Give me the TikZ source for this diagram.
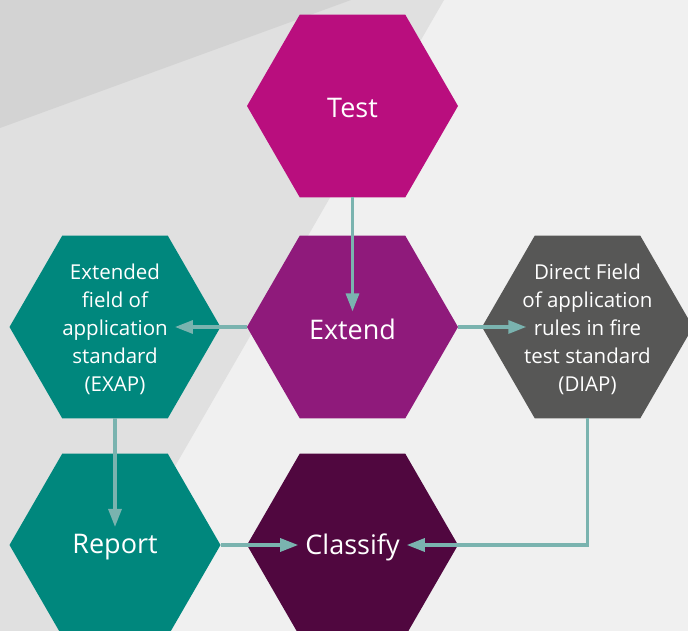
\documentclass[tikz,border=0pt]{standalone}
\usepackage{fontspec}
\setmainfont{Open Sans}
\usetikzlibrary{shapes.geometric,arrows.meta}

\definecolor{testc}{HTML}{B90E7E}
\definecolor{extendc}{HTML}{8F1A7B}
\definecolor{classc}{HTML}{50073F}
\definecolor{tealc}{HTML}{00877D}
\definecolor{greyc}{HTML}{575756}
\definecolor{arrowc}{HTML}{7AB3AF}
\definecolor{bgc}{HTML}{F0F0F0}
\definecolor{midc}{HTML}{E0E0E0}
\definecolor{darkc}{HTML}{D3D3D3}

\begin{document}
\begin{tikzpicture}[x=1pt,y=-1pt,
  hexa/.style={regular polygon,regular polygon sides=6,minimum size=211pt,inner sep=0pt,outer sep=0pt},
  big/.style={text=white,font=\fontsize{27}{32}\selectfont,inner sep=7pt,yshift=-2pt},
  small/.style={text=white,align=center,font=\fontsize{20.5}{28}\selectfont,inner sep=7pt,yshift=-2pt},
  flow/.style={draw=arrowc,line width=3.2pt,-{Triangle[length=18pt,width=13pt]}}]
\useasboundingbox (0,0) rectangle (688,631);
% background
\fill[bgc] (0,0) rectangle (688,631);
\fill[midc] (0,0) -- (444,0) -- (80,631) -- (0,631) -- cycle;
\fill[darkc] (0,0) -- (351,0) -- (0,128) -- cycle;

\node[hexa,fill=testc] (htest) at (352.5,106) {};
\node[hexa,fill=extendc] (hextend) at (352.5,327) {};
\node[hexa,fill=tealc] (hexap) at (115,327) {};
\node[hexa,fill=greyc] (hdiap) at (587.5,327) {};
\node[hexa,fill=tealc] (hreport) at (115,545) {};
\node[hexa,fill=classc] (hclassify) at (352.5,545) {};

\node[big] (test) at (htest) {Test};
\node[big] (extend) at (hextend) {Extend};
\node[small] (exap) at (hexap) {Extended\\field of\\application\\standard\\(EXAP)};
\node[small] (diap) at (hdiap) {Direct Field\\of application\\rules in fire\\test standard\\(DIAP)};
\node[big] (report) at (hreport) {Report};
\node[big] (classify) at (hclassify) {Classify};

\draw[flow] (htest.south) -- (extend.north);
\draw[flow] (hextend.west) -- (hextend.west -| exap.east);
\draw[flow] (hextend.east) -- ([xshift=11pt]hextend.east -| diap.west);
\draw[flow] (hexap.south) -- (report.north);
\draw[flow] (hreport.east) -- (hreport.east -| classify.west);
\draw[flow] (hdiap.south) |- (hclassify.east -| classify.east);
\end{tikzpicture}
\end{document}
